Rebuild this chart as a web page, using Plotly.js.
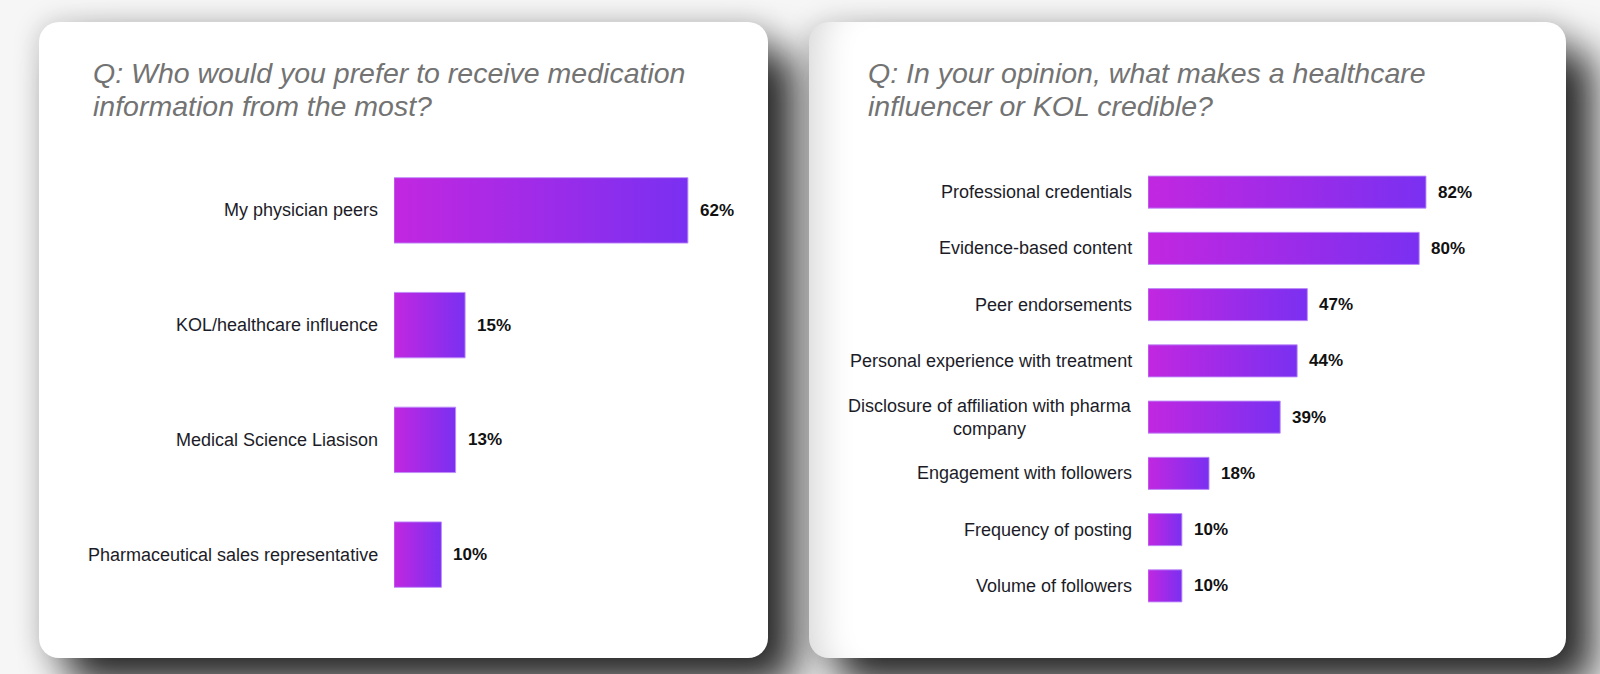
<!DOCTYPE html>
<html>
<head>
<meta charset="utf-8">
<script src="https://cdn.plot.ly/plotly-3.0.1.min.js"></script>
<style>
  html, body { margin: 0; padding: 0; background: #f6f6f6; }
  #wrap { position: relative; width: 1600px; height: 674px; overflow: hidden; background: #f6f6f6; }
  .card { position: absolute; background: #ffffff; border-radius: 20px;
          box-shadow: 0 0 26px 2px rgba(0,0,0,0.16), 28px 28px 40px 0 rgba(0,0,0,0.82); }
  .card.right { box-shadow: inset 40px 0 36px -30px rgba(0,0,0,0.16), 0 0 26px 2px rgba(0,0,0,0.16), 28px 28px 40px 0 rgba(0,0,0,0.82); }
  #chart { position: absolute; left: 0; top: 0; width: 1600px; height: 674px; }
</style>
</head>
<body>
<svg width="0" height="0" style="position:absolute">
  <defs>
    <linearGradient id="barGrad" x1="0" y1="0" x2="1" y2="0">
      <stop offset="0%" stop-color="#c227e0"/>
      <stop offset="100%" stop-color="#7a30f1"/>
    </linearGradient>
  </defs>
</svg>
<div id="wrap">
  <div class="card" style="left:39px; top:22px; width:729px; height:636px;"></div>
  <div class="card right" style="left:809px; top:22px; width:757px; height:636px;"></div>
  <div id="chart"></div>
</div>
<script>
// ---- data ----
const leftTitleLines = ["Q: Who would you prefer to receive medication", "information from the most?"];
const leftCategories = ["My physician peers", "KOL/healthcare influence", "Medical Science Liasison", "Pharmaceutical sales representative"];
const leftValues = [62, 15, 13, 10];

const rightTitleLines = ["Q: In your opinion, what makes a healthcare", "influencer or KOL credible?"];
const rightCategories = ["Professional credentials", "Evidence-based content", "Peer endorsements", "Personal experience with treatment", "Disclosure of affiliation with pharma<br>company", "Engagement with followers", "Frequency of posting", "Volume of followers"];
const rightValues = [82, 80, 47, 44, 39, 18, 10, 10];

// ---- build ----
const FONT = "Liberation Sans, Arial, Helvetica, sans-serif";
function barTrace(cats, vals, xa, ya) {
  return {
    type: "bar", orientation: "h",
    x: vals, y: cats.map((c, i) => i),
    xaxis: xa, yaxis: ya,
    width: 0.57,
    marker: { color: "#9d2be9", line: { color: "rgba(190,140,248,0.9)", width: 1 } },
    hoverinfo: "skip"
  };
}
const traces = [
  barTrace(leftCategories, leftValues, "x", "y"),
  barTrace(rightCategories, rightValues, "x2", "y2")
];

const annotations = [];
function addTitle(lines, x) {
  const ys = [1 - 73.5 / 674, 1 - 106 / 674];
  lines.forEach((t, i) => annotations.push({
    xref: "paper", yref: "paper", x: x, y: ys[i], xanchor: "left", yanchor: "middle",
    text: t, showarrow: false,
    font: { family: FONT, size: 28.5, color: "#737373", style: "italic" }
  }));
}
addTitle(leftTitleLines, 91 / 1600);
addTitle(rightTitleLines, 866 / 1600);

function addLabels(cats, vals, xr, yr) {
  cats.forEach((c, i) => {
    annotations.push({
      xref: xr, yref: yr, x: 0, y: i, xanchor: "right", yanchor: "middle", xshift: -14,
      text: c, align: "center", showarrow: false,
      font: { family: FONT, size: 18, color: "#1c1c28" }
    });
    annotations.push({
      xref: xr, yref: yr, x: vals[i], y: i, xanchor: "left", yanchor: "middle", xshift: 10,
      text: "<b>" + vals[i] + "%</b>", showarrow: false,
      font: { family: FONT, size: 17, color: "#111111" }
    });
  });
}
addLabels(leftCategories, leftValues, "x", "y");
addLabels(rightCategories, rightValues, "x2", "y2");

const hidden = { showgrid: false, zeroline: false, showticklabels: false, showline: false, ticks: "", fixedrange: true };
const layout = {
  width: 1600, height: 674,
  margin: { l: 0, r: 0, t: 0, b: 0 },
  paper_bgcolor: "rgba(0,0,0,0)", plot_bgcolor: "rgba(0,0,0,0)",
  showlegend: false,
  xaxis:  Object.assign({}, hidden, { range: [0, 70],  domain: [394 / 1600, (394 + 70 * 4.74) / 1600], anchor: "y" }),
  yaxis:  Object.assign({}, hidden, { type: "linear", range: [3.5, -0.5], domain: [1 - 612 / 674, 1 - 153 / 674], anchor: "x" }),
  xaxis2: Object.assign({}, hidden, { range: [0, 100], domain: [1148 / 1600, (1148 + 100 * 3.39) / 1600], anchor: "y2" }),
  yaxis2: Object.assign({}, hidden, { type: "linear", range: [7.5, -0.5], domain: [1 - 614 / 674, 1 - 164 / 674], anchor: "x2" }),
  annotations: annotations,
  font: { family: FONT }
};

Plotly.newPlot("chart", traces, layout, { displayModeBar: false, staticPlot: true }).then(gd => {
  gd.querySelectorAll(".trace.bars .point path").forEach(p => {
    p.style.fill = "url(#barGrad)";
  });
});
</script>
</body>
</html>
